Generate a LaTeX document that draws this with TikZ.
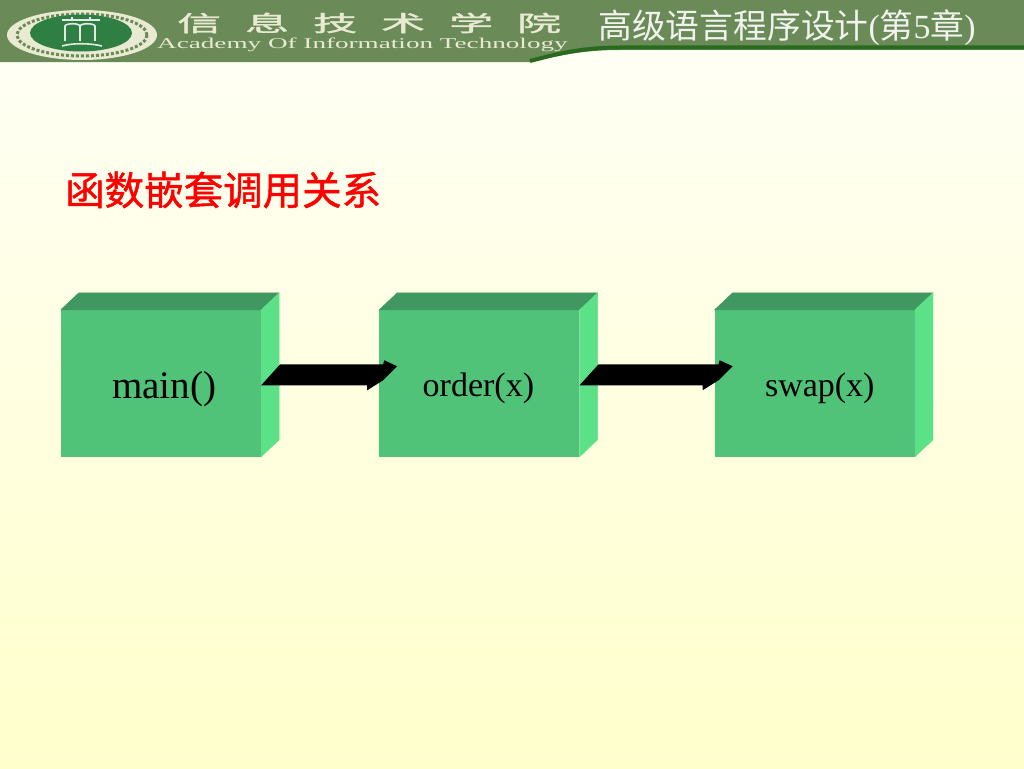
\documentclass[tikz,border=0pt]{standalone}
\usepackage{fontspec}
\setmainfont{Liberation Serif}
\newfontfamily\cjk{Noto Sans CJK SC}
\newfontfamily\cjkheavy[FakeBold=1.2]{Noto Sans CJK SC}
\usetikzlibrary{positioning,calc}
\definecolor{bandgreen}{HTML}{6A8A58}
\definecolor{linegreen}{HTML}{2A6A1E}
\definecolor{crest}{HTML}{2F7F45}
\definecolor{cream}{HTML}{E8EAD2}
\definecolor{frontgreen}{HTML}{50C378}
\definecolor{topgreen}{HTML}{409860}
\definecolor{sidegreen}{HTML}{5CE088}
\newcommand{\fs}[1]{\fontsize{#1}{#1}\selectfont}
\newcommand{\BoxFaces}[1]{
    \filldraw[topgreen, line width=0.4pt] (#1.north west) -- ++(18,-17) -- ++(200,0) -- (#1.north east) -- cycle;
    \filldraw[sidegreen, line width=0.4pt] (#1.north east) -- ++(18,-17) -- ++(0,147) -- (#1.south east) -- cycle;
}
\newcommand{\Flow}[2]{
    \fill[black] (#1.east) ++(0,2) -- ++(19,-21) -- ($(#2.west)+(4,-19)$) -- ++(1,-4) -- ++(13,6) -- ++(-14,14) -- ++(-16,10) -- ++(0,-5) -- cycle;
}
\tikzset{
    block/.style={fill=frontgreen, minimum width=200pt, minimum height=146.5pt, inner sep=0pt},
    blocktext/.style={inner sep=0pt, text=black, font=\fs{34}},
    crestline/.style={draw=white!85!crest, line width=1.6pt},
}
\begin{document}
\begin{tikzpicture}[x=1pt,y=-1pt]
    \useasboundingbox (0,0) rectangle (1024,768);
    \shade[top color=white!60!yellow!8!white, bottom color=yellow!20!white] (0,0) rectangle (1024,768);
    % header band
    \fill[bandgreen] (0,0) -- (1024,0) -- (1024,50) -- (620,50) .. controls (585,50) and (560,55) .. (530,62) -- (0,62) -- cycle;
    \draw[linegreen, line width=4pt] (1024,47.5) -- (620,47.5) .. controls (585,47.5) and (560,53) .. (530,61);
    % crest
    \fill[cream] (82,35) ellipse (75 and 25);
    \draw[bandgreen, line width=3pt, dash pattern=on 3pt off 2pt] (82,35) ellipse (65 and 21);
    \fill[crest] (81,33) ellipse (51 and 18.5);
    \draw[crestline] (62,20) -- (100,20);
    \draw[crestline] (65,41) -- (65,26) .. controls (66,23) and (79,23) .. (80,26) -- (80,41);
    \draw[crestline] (80,26) .. controls (81,23) and (94,23) .. (95,26) -- (95,41);
    \draw[crestline] (72,17) -- (72,20) (90,17) -- (90,20);
    \draw[crestline] (62,46) .. controls (72,43) and (90,43) .. (102,46);
    % school name
    \node[inner sep=0pt, text=cream, font=\cjkheavy\fs{22}, anchor=west] (school) at (177,23) {\scalebox{2}[1]{信\hspace{12pt}息\hspace{12pt}技\hspace{12pt}术\hspace{12pt}学\hspace{12pt}院}};
    \node[inner sep=0pt, text=cream, font=\fs{15}, anchor=west] (academy) at (157,45) {\scalebox{1.81}[1]{Academy Of Information Technology}};
    \node[inner sep=0pt, text=white!90!bandgreen, font=\fs{33.8}, anchor=west] (chapter) at (598,28) {{\cjk 高级语言程序设计}({\cjk 第}5{\cjk 章})};
    % title
    \node[inner sep=0pt, text=red, font=\cjkheavy\fs{39.5}, anchor=west] (title) at (65,190) {函数嵌套调用关系};
    % blocks
    \node[block] (main) at (161,383.25) {};
    \node[block, right=118pt of main] (order) {};
    \node[block, right=135pt of order] (swap) {};
    \BoxFaces{main}
    \BoxFaces{order}
    \BoxFaces{swap}
    \node[blocktext, font=\fs{39}] (mainlabel) at ($(main)+(3,6)$) {main()};
    \node[blocktext] (orderlabel) at ($(order)+(-1,5)$) {order(x)};
    \node[blocktext] (swaplabel) at ($(swap)+(5,5)$) {swap(x)};
    % arrows
    \Flow{main}{order}
    \Flow{order}{swap}
\end{tikzpicture}
\end{document}
